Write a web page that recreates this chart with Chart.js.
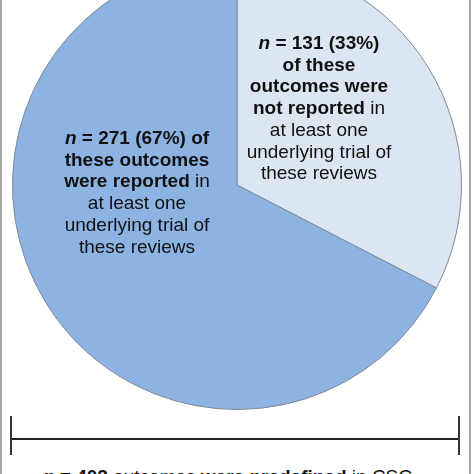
<!DOCTYPE html>
<html>
<head>
<meta charset="utf-8">
<script src="https://cdn.jsdelivr.net/npm/chart.js@4"></script>
<style>
  html, body { margin: 0; padding: 0; background: #fff; }
  body { width: 474px; height: 474px; position: relative; overflow: hidden;
         font-family: "Liberation Sans", Arial, sans-serif; color: #111; }
  #pieBox { position: absolute; left: 12px; top: -40px; width: 450px; height: 450px; }
  .frame { position: absolute; top: 0; width: 2px; height: 474px; background: #a8a8a8; }
  .lbl { position: absolute; font-size: 19px; line-height: 21.7px; text-align: center;
         white-space: nowrap; transform: translateX(-50%); }
  .bar { position: absolute; background: #222; }
</style>
</head>
<body>
<div class="frame" style="left:0"></div>
<div class="frame" style="left:469px"></div>
<div id="pieBox"><canvas id="pizza"></canvas></div>

<div class="lbl" id="lblNao" style="left:319px; top:32px"></div>
<div class="lbl" id="lblSim" style="left:137px; top:127px"></div>

<!-- chave embaixo da pizza -->
<div class="bar" style="left:11px; top:438px; width:449px; height:2px"></div>
<div class="bar" style="left:10px; top:416px; width:2px; height:39px; background:#333"></div>
<div class="bar" style="left:458px; top:416px; width:2px; height:39px; background:#333"></div>

<div class="lbl" id="lblTotal" style="left:228px; top:466px"></div>

<script>
// dados da figura
let categorias = ["not reported", "reported"];
let valores = [131, 271];
let cores = ["#dce6f2", "#8db3e2"];

let total = valores.reduce((a, b) => a + b, 0);
let pct = valores.map(v => Math.round(v * 100 / total));

document.getElementById("lblNao").innerHTML =
  "<b><i>n</i> = " + valores[0] + " (" + pct[0] + "%)<br>of these<br>outcomes were<br>" +
  categorias[0] + "</b> in<br>at least one<br>underlying trial of<br>these reviews";
document.getElementById("lblSim").innerHTML =
  "<b><i>n</i> = " + valores[1] + " (" + pct[1] + "%) of<br>these outcomes<br>were " +
  categorias[1] + "</b> in<br>at least one<br>underlying trial of<br>these reviews";
document.getElementById("lblTotal").innerHTML =
  "<b><i>n</i> = " + total + "</b> outcomes <b>were predefined</b> in CSG";

new Chart("pizza", {
  type: "pie",
  data: {
    labels: categorias,
    datasets: [{
      data: valores,
      backgroundColor: cores,
      borderColor: "#7f8a98",
      borderWidth: 1
    }]
  },
  options: {
    responsive: true,
    maintainAspectRatio: false,
    animation: false,
    layout: { padding: 0 },
    plugins: {
      legend: { display: false },
      tooltip: { enabled: false }
    }
  }
});
</script>
</body>
</html>
